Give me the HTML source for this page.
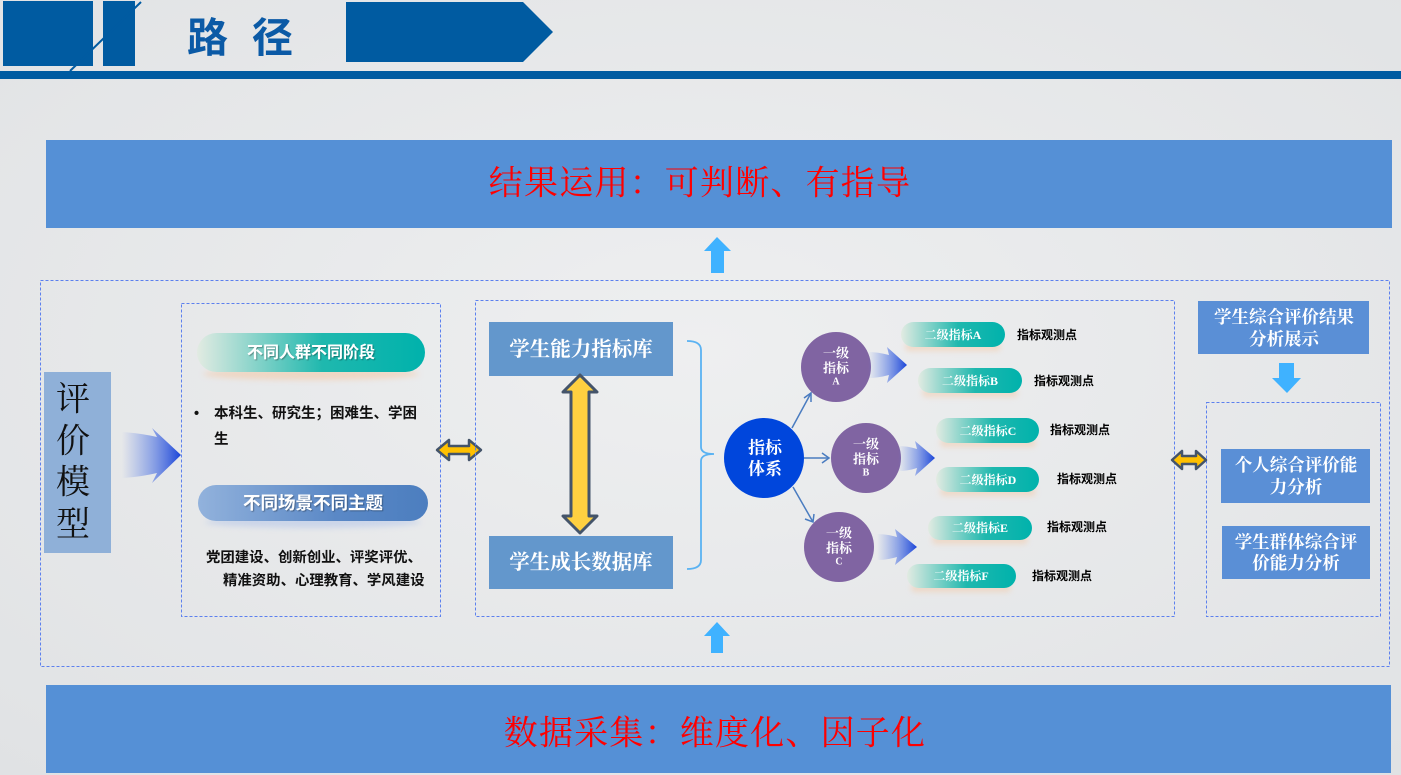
<!DOCTYPE html>
<html><head><meta charset="utf-8">
<style>
html,body{margin:0;padding:0;}
body{width:1401px;height:775px;overflow:hidden;background:#e9eaec;}
svg{display:block;}
.sans{font-family:"Liberation Sans","Noto Sans CJK SC",sans-serif;}
.serif{font-family:"Liberation Serif","Noto Serif CJK SC",serif;}
</style></head>
<body>
<svg width="1401" height="775" viewBox="0 0 1401 775" xmlns="http://www.w3.org/2000/svg">
<defs>
<radialGradient id="bg" cx="0.5" cy="0.45" r="0.75">
<stop offset="0" stop-color="#eeeff0"/><stop offset="1" stop-color="#e0e2e4"/>
</radialGradient>
<linearGradient id="barr" x1="0" y1="0" x2="1" y2="0">
<stop offset="0" stop-color="#5b7fe6" stop-opacity="0"/><stop offset="0.5" stop-color="#4a70e2" stop-opacity="0.55"/><stop offset="1" stop-color="#1a44d8"/>
</linearGradient>
<linearGradient id="teal" x1="0" y1="0" x2="1" y2="0">
<stop offset="0" stop-color="#e2ebe2"/><stop offset="0.55" stop-color="#1fb8ae"/><stop offset="1" stop-color="#00b2ac"/>
</linearGradient>
<linearGradient id="bpill" x1="0" y1="0" x2="1" y2="0">
<stop offset="0" stop-color="#92b2dc"/><stop offset="0.6" stop-color="#5a88c6"/><stop offset="1" stop-color="#4c7ebf"/>
</linearGradient>
<filter id="blur4" x="-20%" y="-50%" width="140%" height="200%"><feGaussianBlur stdDeviation="3"/></filter>
<filter id="ts" x="-10%" y="-20%" width="120%" height="140%"><feDropShadow dx="1" dy="1" stdDeviation="0.6" flood-color="#000" flood-opacity="0.35"/></filter>
</defs>

<rect width="1401" height="775" fill="url(#bg)"/>

<!-- header -->
<rect x="3" y="1" width="90" height="65" fill="#005ba1"/>
<rect x="103" y="1" width="32" height="65" fill="#005ba1"/>
<line x1="141" y1="2" x2="70" y2="71" stroke="#005ba1" stroke-width="2"/>
<text x="187" y="38" class="sans" font-size="41" font-weight="bold" fill="#0b5aa6" dominant-baseline="central" letter-spacing="24">路径</text>
<polygon points="346,2 523,2 553,32 523,62 346,62" fill="#005ba1"/>
<rect x="0" y="71" width="1401" height="8" fill="#005ba1"/>

<!-- top result box -->
<rect x="46" y="140" width="1346" height="88" fill="#5590d6"/>
<text x="700" y="184" class="serif" font-size="34" fill="#ff0000" text-anchor="middle" dominant-baseline="central" letter-spacing="1.2">结果运用：可判断、有指导</text>
<polygon points="717,237 731,251 724,251 724,273 711,273 711,251 704,251" fill="#3fb2ff"/>

<!-- outer dashed -->
<rect x="40.5" y="280.5" width="1349" height="386" fill="none" stroke="#5c80ee" stroke-dasharray="3,2"/>

<!-- left model -->
<rect x="44" y="372" width="67" height="181" fill="#8fb0d8"/>
<g class="serif" font-size="34" fill="#111" text-anchor="middle" dominant-baseline="central">
<text x="73" y="400">评</text><text x="73" y="442">价</text><text x="73" y="483">模</text><text x="73" y="525">型</text>
</g>
<path d="M122,432 Q140,433 157,437 L152,428 L181,455 L152,483 L157,473 Q140,477 122,478 Z" fill="url(#barr)"/>

<!-- box 2 -->
<rect x="181.5" y="303.5" width="259" height="313" fill="none" stroke="#5c80ee" stroke-dasharray="3,2"/>
<ellipse cx="311" cy="374" rx="108" ry="6" fill="#f3c9a8" opacity="0.6" filter="url(#blur4)"/>
<rect x="197" y="333" width="228" height="39" rx="19.5" fill="url(#teal)"/>
<text x="311" y="353" class="sans" font-size="16" font-weight="bold" fill="#fff" text-anchor="middle" dominant-baseline="central" filter="url(#ts)">不同人群不同阶段</text>
<g class="sans" font-size="14.5" font-weight="bold" fill="#111" dominant-baseline="central">
<text x="194" y="414">•</text>
<text x="214" y="414">本科生、研究生；困难生、学困</text>
<text x="214" y="440">生</text>
</g>
<ellipse cx="313" cy="522" rx="108" ry="6" fill="#b8c8e8" opacity="0.6" filter="url(#blur4)"/>
<rect x="198" y="485" width="230" height="36" rx="18" fill="url(#bpill)"/>
<text x="313" y="503" class="sans" font-size="17.5" font-weight="bold" fill="#fff" text-anchor="middle" dominant-baseline="central" filter="url(#ts)">不同场景不同主题</text>
<g class="sans" font-size="14.4" font-weight="bold" fill="#111" dominant-baseline="central">
<text x="206" y="558">党团建设、创新创业、评奖评优、</text>
<text x="223" y="581">精准资助、心理教育、学风建设</text>
</g>

<!-- horizontal double arrow left -->
<path d="M437,450 L449,440 L449,446 L469,446 L469,440 L481,450 L469,460 L469,454 L449,454 L449,460 Z" fill="#ffc000" stroke="#44546a" stroke-width="2.5" stroke-linejoin="round"/>

<!-- box 3 -->
<rect x="475.5" y="300.5" width="699" height="316" fill="none" stroke="#5c80ee" stroke-dasharray="3,2"/>
<rect x="489" y="322" width="184" height="54" fill="#6397cc"/>
<text x="581" y="350" class="serif" font-size="20.5" font-weight="bold" fill="#fff" text-anchor="middle" dominant-baseline="central">学生能力指标库</text>
<rect x="489" y="536" width="184" height="53" fill="#6397cc"/>
<text x="581" y="563" class="serif" font-size="20.5" font-weight="bold" fill="#fff" text-anchor="middle" dominant-baseline="central">学生成长数据库</text>
<path d="M580,375 L597,392 L589,392 L589,516 L597,516 L580,533 L563,516 L571,516 L571,392 L563,392 Z" fill="#ffd040" stroke="#44546a" stroke-width="3" stroke-linejoin="round"/>
<!-- bracket -->
<path d="M687,341 Q701,341 701,350 L701,447 Q701,454 714,454 Q701,454 701,461 L701,560 Q701,569 687,569" fill="none" stroke="#5ab2f2" stroke-width="1.8"/>

<!-- index system circle -->
<circle cx="764" cy="458" r="40" fill="#0046dc"/>
<g class="serif" font-size="17" font-weight="bold" fill="#fff" text-anchor="middle" dominant-baseline="central">
<text x="765" y="448">指标</text><text x="765" y="469">体系</text>
</g>
<g stroke="#4a7cc0" stroke-width="1.5" fill="none">
<line x1="792" y1="428" x2="811" y2="393"/>
<polyline points="804,398 811,393 811,402"/>
<line x1="804" y1="458" x2="829" y2="458"/>
<polyline points="822,453 829,458 822,463"/>
<line x1="793" y1="487" x2="813" y2="522"/>
<polyline points="805,519 813,522 814,514"/>
</g>

<!-- purple circles -->
<g fill="#8064a2">
<circle cx="836" cy="367" r="35"/>
<circle cx="866" cy="458" r="35"/>
<circle cx="839" cy="547" r="35"/>
</g>
<g class="serif" font-weight="bold" fill="#fff" text-anchor="middle" dominant-baseline="central">
<text x="836" y="353" font-size="13">一级</text><text x="836" y="368" font-size="13">指标</text><text x="836" y="382" font-size="10">A</text>
<text x="866" y="444" font-size="13">一级</text><text x="866" y="459" font-size="13">指标</text><text x="866" y="473" font-size="10">B</text>
<text x="839" y="533" font-size="13">一级</text><text x="839" y="548" font-size="13">指标</text><text x="839" y="562" font-size="10">C</text>
</g>
<!-- small gradient arrows -->
<path d="M868,352 Q878,352 889,355 L887,347 L907,365 L887,383 L889,375 Q878,378 868,378 Z" fill="url(#barr)"/>
<path d="M898,446 Q908,446 917,449 L915,441 L935,458 L915,476 L917,468 Q908,471 898,471 Z" fill="url(#barr)"/>
<path d="M877,534 Q887,534 897,537 L895,529 L917,547 L895,565 L897,557 Q887,560 877,560 Z" fill="url(#barr)"/>

<!-- level-2 pills -->
<g fill="#f3c9a8" opacity="0.55" filter="url(#blur4)">
<rect x="905" y="343" width="96" height="8" rx="4"/>
<rect x="922" y="389" width="96" height="8" rx="4"/>
<rect x="940" y="439" width="96" height="8" rx="4"/>
<rect x="940" y="488" width="96" height="8" rx="4"/>
<rect x="932" y="536" width="96" height="8" rx="4"/>
<rect x="911" y="584" width="100" height="8" rx="4"/>
</g>
<g>
<rect x="901" y="322" width="104" height="25" rx="12.5" fill="url(#teal)"/>
<rect x="918" y="368" width="104" height="25" rx="12.5" fill="url(#teal)"/>
<rect x="936" y="418" width="103" height="25" rx="12.5" fill="url(#teal)"/>
<rect x="936" y="467" width="103" height="25" rx="12.5" fill="url(#teal)"/>
<rect x="928" y="516" width="104" height="24" rx="12" fill="url(#teal)"/>
<rect x="907" y="564" width="109" height="24" rx="12" fill="url(#teal)"/>
</g>
<g class="serif" font-size="12" font-weight="bold" fill="#fff" text-anchor="middle" dominant-baseline="central">
<text x="953" y="335">二级指标A</text>
<text x="970" y="381">二级指标B</text>
<text x="988" y="431">二级指标C</text>
<text x="988" y="480">二级指标D</text>
<text x="980" y="528">二级指标E</text>
<text x="961" y="576">二级指标F</text>
</g>
<g class="sans" font-size="12" font-weight="bold" fill="#000" dominant-baseline="central">
<text x="1017" y="335">指标观测点</text>
<text x="1034" y="381">指标观测点</text>
<text x="1050" y="430">指标观测点</text>
<text x="1057" y="479">指标观测点</text>
<text x="1047" y="527">指标观测点</text>
<text x="1032" y="576">指标观测点</text>
</g>

<!-- right section -->
<rect x="1198" y="301" width="171" height="53" fill="#5a8fd6"/>
<g class="serif" font-size="17.5" font-weight="bold" fill="#fff" text-anchor="middle" dominant-baseline="central">
<text x="1284" y="317">学生综合评价结果</text><text x="1284" y="339">分析展示</text>
</g>
<polygon points="1279,363 1294,363 1294,378 1301,378 1287,393 1272,378 1279,378" fill="#3fb2ff"/>
<rect x="1206.5" y="402.5" width="174" height="214" fill="none" stroke="#5c80ee" stroke-dasharray="3,2"/>
<path d="M1172,460 L1182,451 L1182,456 L1196,456 L1196,451 L1206,460 L1196,469 L1196,464 L1182,464 L1182,469 Z" fill="#ffc000" stroke="#44546a" stroke-width="2.5" stroke-linejoin="round"/>
<rect x="1221" y="449" width="149" height="54" fill="#5a8fd6"/>
<rect x="1222" y="526" width="148" height="53" fill="#5a8fd6"/>
<g class="serif" font-size="17.5" font-weight="bold" fill="#fff" text-anchor="middle" dominant-baseline="central">
<text x="1296" y="465">个人综合评价能</text><text x="1296" y="487">力分析</text>
<text x="1296" y="542">学生群体综合评</text><text x="1296" y="563">价能力分析</text>
</g>

<!-- bottom -->
<polygon points="717,622 730,636 723,636 723,653 711,653 711,636 704,636" fill="#3fb2ff"/>
<rect x="46" y="685" width="1345" height="88" fill="#5590d6"/>
<text x="715" y="734" class="serif" font-size="34" fill="#ff0000" text-anchor="middle" dominant-baseline="central" letter-spacing="1.2">数据采集：维度化、因子化</text>
</svg>
</body></html>
